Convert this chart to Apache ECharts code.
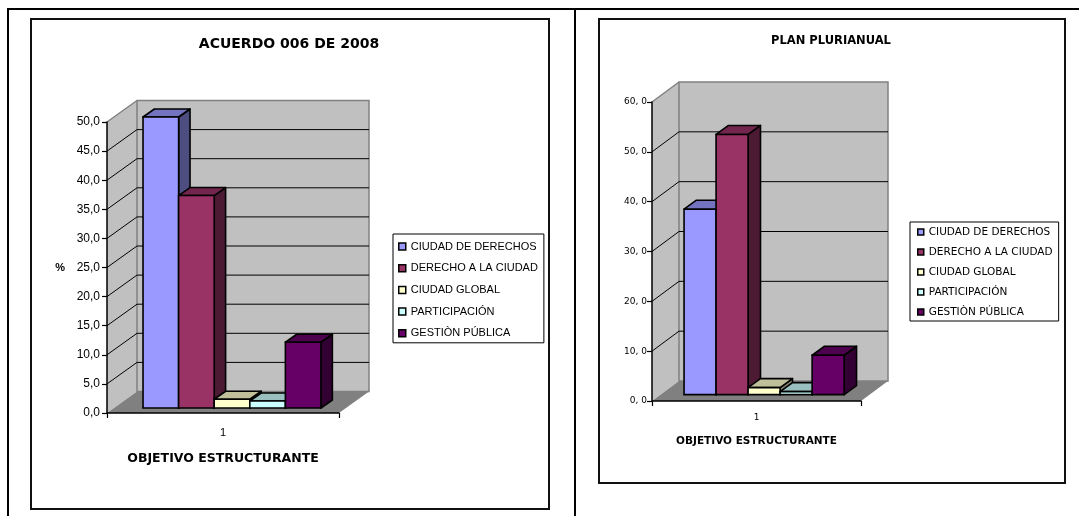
<!DOCTYPE html>
<html><head><meta charset="utf-8">
<script src="https://cdn.jsdelivr.net/npm/echarts@6/dist/echarts.min.js"></script>
<style>html,body{margin:0;padding:0;background:#fff}#c{width:1079px;height:516px}</style>
</head><body><div id="c"></div>
<script>
// ---------- data ----------
var categories = ['1'];
var seriesNames = ['CIUDAD DE DERECHOS', 'DERECHO A LA CIUDAD', 'CIUDAD GLOBAL', 'PARTICIPACIÓN', 'GESTIÒN PÚBLICA'];
var acuerdoValues = [50.0, 36.5, 1.5, 1.2, 11.3];
var planValues = [37.2, 52.2, 1.4, 0.6, 7.9];
var acuerdoAxis = [0, 50, 5];   // min, max, interval
var planAxis = [0, 60, 10];
var chartTitles = ['ACUERDO 006 DE 2008', 'PLAN PLURIANUAL'];
var xAxisTitle = 'OBJETIVO ESTRUCTURANTE';
var yAxisTitle = '%';

// ---------- styles ----------
var frontColors = ['#9999FF', '#993366', '#FFFFCC', '#CCFFFF', '#660066'];
var topColors = ['#7373BF', '#73264D', '#BFBF99', '#99BFBF', '#4D004D'];
var sideColors = ['#4D4D80', '#4D1A33', '#80806A', '#668080', '#330033'];

var cfgA = { dx: 30, dy: -21.5, sx: 7, sy: -5, ddx: 11.4, ddy: -8, groupRatio: 0.767, groupOffset: 2 };
var cfgB = { dx: 27, dy: -20, sx: 8.6, sy: -6.4, ddx: 12.4, ddy: -9, groupRatio: 0.766, groupOffset: -1 };

function wallRender(cfg, axis) {
  return function (params, api) {
    var cs = params.coordSys;
    var x0 = cs.x, x1 = cs.x + cs.width;
    var yAt = function (v) { return api.coord([0, v])[1]; };
    var y0 = yAt(axis[0]), yM = yAt(axis[1]);
    var dx = cfg.dx, dy = cfg.dy;
    var ch = [];
    ch.push({ type: 'polygon', shape: { points: [[x0, y0], [x0, yM], [x0 + dx, yM + dy], [x0 + dx, y0 + dy]] }, style: { fill: '#C0C0C0' } });
    ch.push({ type: 'rect', shape: { x: x0 + dx, y: yM + dy, width: x1 - x0, height: y0 - yM }, style: { fill: '#C0C0C0', stroke: '#808080', lineWidth: 1.5 } });
    for (var v = axis[0] + axis[2]; v < axis[1] - 1e-9; v += axis[2]) {
      var y = yAt(v);
      ch.push({ type: 'polyline', shape: { points: [[x0, y], [x0 + dx, y + dy], [x1 + dx, y + dy]] }, style: { stroke: '#000', lineWidth: 1, fill: 'none' } });
    }
    ch.push({ type: 'line', shape: { x1: x0, y1: yM, x2: x0 + dx, y2: yM + dy }, style: { stroke: '#808080', lineWidth: 1.5 } });
    ch.push({ type: 'polygon', shape: { points: [[x0, y0], [x1, y0], [x1 + dx, y0 + dy], [x0 + dx, y0 + dy]] }, style: { fill: '#808080' } });
    return { type: 'group', children: ch };
  };
}

function barRender(cfg, idx, count) {
  return function (params, api) {
    var c = api.value(0), v = api.value(1);
    var base = api.coord([c, 0]);
    var top = api.coord([c, v]);
    var bandW = api.size([1, 0])[0];
    var groupW = bandW * cfg.groupRatio;
    var bw = groupW / count;
    var x = base[0] - groupW / 2 + cfg.groupOffset + idx * bw + cfg.sx;
    var yb = base[1] + cfg.sy, yt = top[1] + cfg.sy;
    var ddx = cfg.ddx, ddy = cfg.ddy, lw = 1.6;
    return { type: 'group', children: [
      { type: 'polygon', shape: { points: [[x + bw, yt], [x + bw + ddx, yt + ddy], [x + bw + ddx, yb + ddy], [x + bw, yb]] }, style: { fill: sideColors[idx], stroke: '#000', lineWidth: lw, lineJoin: 'round' } },
      { type: 'polygon', shape: { points: [[x, yt], [x + ddx, yt + ddy], [x + bw + ddx, yt + ddy], [x + bw, yt]] }, style: { fill: topColors[idx], stroke: '#000', lineWidth: lw, lineJoin: 'round' } },
      { type: 'rect', shape: { x: x, y: yt, width: bw, height: yb - yt }, style: { fill: frontColors[idx], stroke: '#000', lineWidth: lw } }
    ] };
  };
}

function buildSeries(gi, values, cfg, axis) {
  var out = [{
    type: 'custom', name: 'wall' + gi, xAxisIndex: gi, yAxisIndex: gi, silent: true, clip: false,
    renderItem: wallRender(cfg, axis), data: [[0, 0]], tooltip: { show: false }
  }];
  seriesNames.forEach(function (n, i) {
    out.push({
      type: 'custom', name: n, xAxisIndex: gi, yAxisIndex: gi, clip: false,
      itemStyle: { color: frontColors[i] },
      renderItem: barRender(cfg, i, seriesNames.length),
      data: categories.map(function (c, ci) { return [ci, values[i]]; })
    });
  });
  return out;
}

var fmtA = function (v) { return v.toFixed(1).replace('.', ','); };
var fmtB = function (v) { return v.toFixed(1).replace('.', ', '); };

var chart = echarts.init(document.getElementById('c'), null, { renderer: 'canvas' });
chart.setOption({
  animation: false,
  backgroundColor: '#fff',
  title: [
    { text: chartTitles[0], left: 289, top: 37, textAlign: 'center', padding: 0,
      textStyle: { fontFamily: 'DejaVu Sans', fontWeight: 'bold', fontSize: 14, color: '#000' } },
    { text: chartTitles[1], left: 831, top: 35, textAlign: 'center', padding: 0,
      textStyle: { fontFamily: 'DejaVu Sans', fontWeight: 'bold', fontSize: 11.5, color: '#000' } }
  ],
  legend: [
    { data: seriesNames, orient: 'vertical', left: 393, top: 234, icon: 'rect', itemWidth: 7, itemHeight: 7,
      itemGap: 8.7, padding: [6, 6, 3, 5], borderColor: '#000', borderWidth: 1, selectedMode: false,
      itemStyle: { borderColor: '#000', borderWidth: 1.5 },
      textStyle: { fontFamily: 'Liberation Sans', fontSize: 11, lineHeight: 13, color: '#000' } },
    { data: seriesNames, orient: 'vertical', left: 910, top: 222, icon: 'rect', itemWidth: 6, itemHeight: 6,
      itemGap: 8, padding: [4, 6, 3, 7], borderColor: '#000', borderWidth: 1, selectedMode: false,
      itemStyle: { borderColor: '#000', borderWidth: 1.5 },
      textStyle: { fontFamily: 'DejaVu Sans', fontSize: 10.5, lineHeight: 12, color: '#000' } }
  ],
  grid: [
    { left: 107, top: 122, width: 232, height: 291, containLabel: false, outerBoundsMode: 'none' },
    { left: 652, top: 102, width: 209, height: 299, containLabel: false, outerBoundsMode: 'none' }
  ],
  xAxis: [
    { gridIndex: 0, type: 'category', data: categories, boundaryGap: true, z: 10,
      axisLine: { show: true, lineStyle: { color: '#000', width: 1.5 } },
      axisTick: { show: true, length: 5, lineStyle: { color: '#000', width: 1.2 } },
      axisLabel: { margin: 14, color: '#000', fontSize: 11, fontFamily: 'Liberation Sans' },
      splitLine: { show: false },
      name: xAxisTitle, nameLocation: 'middle', nameGap: 39,
      nameTextStyle: { fontFamily: 'DejaVu Sans', fontWeight: 'bold', fontSize: 12.5, color: '#000' } },
    { gridIndex: 1, type: 'category', data: categories, boundaryGap: true, z: 10,
      axisLine: { show: true, lineStyle: { color: '#000', width: 1.5 } },
      axisTick: { show: true, length: 5, lineStyle: { color: '#000', width: 1.2 } },
      axisLabel: { margin: 12, color: '#000', fontSize: 9, fontFamily: 'DejaVu Sans' },
      splitLine: { show: false },
      name: xAxisTitle, nameLocation: 'middle', nameGap: 35,
      nameTextStyle: { fontFamily: 'DejaVu Sans', fontWeight: 'bold', fontSize: 10.5, color: '#000' } }
  ],
  yAxis: [
    { gridIndex: 0, type: 'value', min: acuerdoAxis[0], max: acuerdoAxis[1], interval: acuerdoAxis[2], z: 10,
      axisLine: { show: true, lineStyle: { color: '#000', width: 1.5 } },
      axisTick: { show: true, length: 5, lineStyle: { color: '#000', width: 1.2 } },
      splitLine: { show: false },
      axisLabel: { formatter: fmtA, margin: 7, fontSize: 12, color: '#000', fontFamily: 'Liberation Sans' },
      name: yAxisTitle, nameLocation: 'middle', nameRotate: 0, nameGap: 42,
      nameTextStyle: { fontFamily: 'Liberation Sans', fontWeight: 'bold', fontSize: 11, color: '#000' } },
    { gridIndex: 1, type: 'value', min: planAxis[0], max: planAxis[1], interval: planAxis[2], z: 10,
      axisLine: { show: true, lineStyle: { color: '#000', width: 1.5 } },
      axisTick: { show: true, length: 5, lineStyle: { color: '#000', width: 1.2 } },
      splitLine: { show: false },
      axisLabel: { formatter: fmtB, margin: 5, fontSize: 9, color: '#000', fontFamily: 'DejaVu Sans' } }
  ],
  graphic: [
    { type: 'line', silent: true, shape: { x1: 7, y1: 9, x2: 1079, y2: 9 }, style: { stroke: '#000', lineWidth: 2 } },
    { type: 'line', silent: true, shape: { x1: 8, y1: 8, x2: 8, y2: 516 }, style: { stroke: '#000', lineWidth: 2 } },
    { type: 'line', silent: true, shape: { x1: 575, y1: 8, x2: 575, y2: 516 }, style: { stroke: '#000', lineWidth: 2 } },
    { type: 'rect', silent: true, shape: { x: 31, y: 19, width: 518, height: 490 }, style: { fill: 'none', stroke: '#111', lineWidth: 2 } },
    { type: 'rect', silent: true, shape: { x: 599, y: 19, width: 466, height: 464 }, style: { fill: 'none', stroke: '#111', lineWidth: 2 } }
  ],
  series: buildSeries(0, acuerdoValues, cfgA, acuerdoAxis).concat(buildSeries(1, planValues, cfgB, planAxis))
});
</script>
</body></html>
